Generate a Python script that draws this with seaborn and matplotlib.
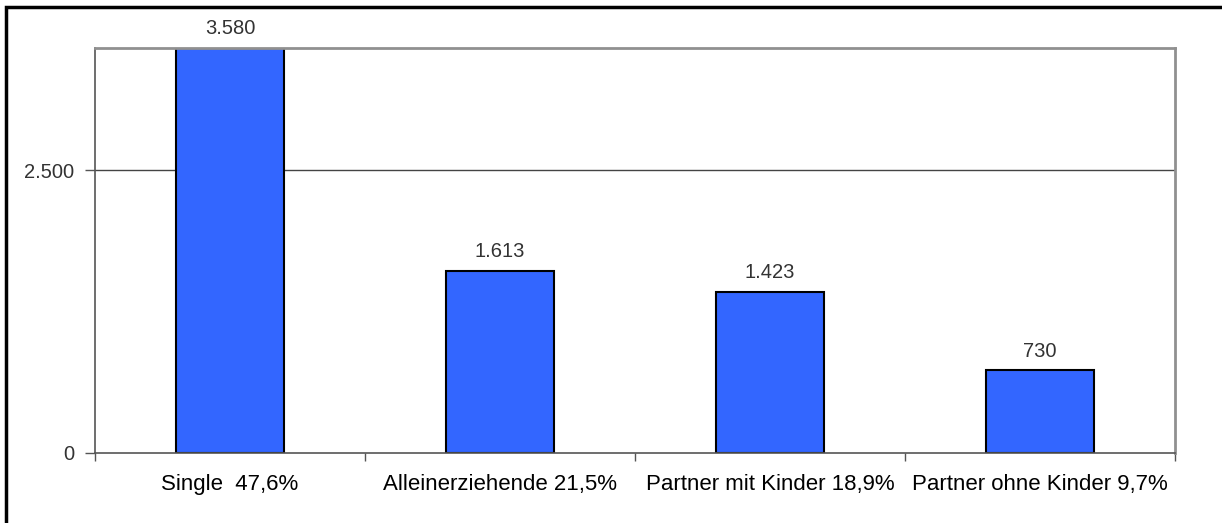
import matplotlib
matplotlib.use("Agg")
import matplotlib.pyplot as plt
import seaborn as sns
import pandas as pd
from matplotlib.patches import Rectangle

categories = ["Single  47,6%", "Alleinerziehende 21,5%",
              "Partner mit Kinder 18,9%", "Partner ohne Kinder 9,7%"]
values = [3580, 1613, 1423, 730]
value_labels = ["3.580", "1.613", "1.423", "730"]
ytick_values = [0, 2500]
ytick_labels = ["0", "2.500"]

df = pd.DataFrame({"group": categories, "count": values})

sns.set_style("white")
plt.rcParams["font.family"] = ["Liberation Sans", "DejaVu Sans"]

W, H = 1222, 523
fig = plt.figure(figsize=(W / 100, H / 100), dpi=100)
ax = fig.add_axes([95 / W, 1 - 453 / H, (1175 - 95) / W, (453 - 48) / H])

sns.barplot(data=df, x="group", y="count", order=categories, color="#3366FF",
            saturation=1, width=0.4, edgecolor="black", linewidth=1.5, ax=ax)

ax.set_xlim(-0.5, len(categories) - 0.5)
ax.set_ylim(0, 3580)
ax.set_yticks(ytick_values)
ax.set_yticklabels(ytick_labels, fontsize=14.5, color="#333333")
ax.axhline(2500, color="#444444", lw=1, zorder=0)

ax.set_xticks(range(len(categories)))
ax.set_xticklabels(categories, fontsize=16, color="black")
ax.set_xticks([i - 0.5 for i in range(len(categories) + 1)], minor=True)
ax.tick_params(axis="x", which="major", length=0, pad=15)
ax.tick_params(axis="x", which="minor", length=6, color="#555555", width=1, direction="out", bottom=True)
ax.tick_params(axis="y", length=7, color="#555555", width=1, direction="out", left=True, pad=8)
ax.set_xlabel("")
ax.set_ylabel("")

for s in ["top", "right"]:
    ax.spines[s].set_color("#909090")
    ax.spines[s].set_linewidth(2)
for s in ["left", "bottom"]:
    ax.spines[s].set_color("#555555")
    ax.spines[s].set_linewidth(1.2)

for p, lab in zip(ax.patches, value_labels):
    ax.annotate(lab, (p.get_x() + p.get_width() / 2, p.get_height()),
                xytext=(0, 7), textcoords="offset points", ha="center",
                va="bottom", fontsize=14.5, color="#333333", annotation_clip=False)

# outer frame (cropped screenshot border)
fig.add_artist(Rectangle((6 / W, -0.1), 1.2, 1 - 7 / H + 0.1,
                         transform=fig.transFigure, fill=False,
                         edgecolor="black", lw=2.5))

fig.savefig("out.png", dpi=100)
